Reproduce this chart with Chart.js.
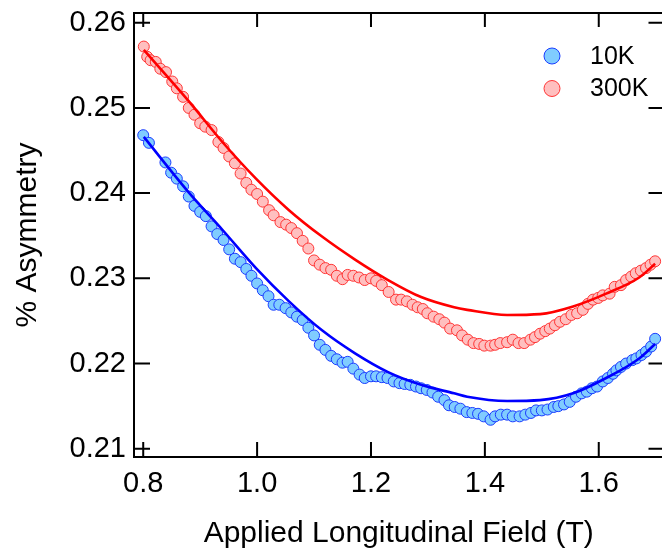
<!DOCTYPE html>
<html>
<head>
<meta charset="utf-8">
<script src="https://cdn.jsdelivr.net/npm/chart.js@4.4.1/dist/chart.umd.min.js"></script>
<style>
html,body{margin:0;padding:0;overflow:hidden;background:#fff;width:662px;height:548px;}
#wrap{width:670px;height:548px;}
</style>
</head>
<body>
<div id="wrap"><canvas id="c" width="670" height="548"></canvas></div>
<script>
// ---- data ----
const fieldBlue = [0.800,0.810,0.839,0.849,0.859,0.870,0.880,0.890,0.900,0.910,0.920,0.930,0.941,0.951,0.961,0.971,0.981,0.990,1.000,1.010,1.020,1.029,1.039,1.050,1.060,1.070,1.080,1.090,1.100,1.110,1.120,1.130,1.140,1.150,1.159,1.169,1.180,1.189,1.200,1.209,1.219,1.229,1.240,1.250,1.259,1.269,1.279,1.288,1.298,1.308,1.318,1.329,1.337,1.347,1.357,1.368,1.378,1.388,1.398,1.410,1.418,1.428,1.439,1.449,1.461,1.471,1.481,1.490,1.500,1.510,1.521,1.529,1.539,1.549,1.560,1.570,1.579,1.588,1.597,1.607,1.616,1.625,1.631,1.639,1.648,1.659,1.666,1.675,1.683,1.692,1.699];
const asymBlue = [0.2468,0.2459,0.2436,0.2424,0.2417,0.2408,0.2396,0.2385,0.2378,0.2373,0.2361,0.2352,0.2345,0.2334,0.2323,0.2319,0.2311,0.2303,0.2294,0.2286,0.2279,0.2269,0.2269,0.2265,0.2260,0.2255,0.2251,0.2242,0.2233,0.2222,0.2216,0.2209,0.2205,0.2201,0.2202,0.2194,0.2187,0.2183,0.2185,0.2185,0.2184,0.2183,0.2179,0.2177,0.2176,0.2175,0.2173,0.2171,0.2169,0.2166,0.2161,0.2157,0.2151,0.2149,0.2147,0.2143,0.2142,0.2141,0.2138,0.2134,0.2138,0.2140,0.2140,0.2138,0.2138,0.2140,0.2142,0.2145,0.2145,0.2146,0.2149,0.2150,0.2152,0.2155,0.2161,0.2165,0.2167,0.2171,0.2173,0.2179,0.2183,0.2188,0.2192,0.2196,0.2200,0.2204,0.2206,0.2210,0.2214,0.2220,0.2229];

const fieldRed = [0.801,0.807,0.813,0.822,0.830,0.840,0.851,0.859,0.870,0.880,0.890,0.900,0.909,0.920,0.932,0.941,0.951,0.961,0.971,0.981,0.990,1.000,1.010,1.021,1.029,1.041,1.051,1.060,1.070,1.080,1.090,1.100,1.110,1.120,1.130,1.140,1.150,1.159,1.169,1.179,1.189,1.200,1.209,1.219,1.231,1.244,1.253,1.263,1.273,1.282,1.291,1.299,1.310,1.320,1.329,1.339,1.351,1.360,1.370,1.380,1.390,1.399,1.410,1.418,1.427,1.439,1.449,1.459,1.469,1.480,1.488,1.497,1.506,1.514,1.523,1.532,1.542,1.552,1.562,1.572,1.581,1.590,1.599,1.607,1.619,1.628,1.639,1.648,1.657,1.665,1.674,1.683,1.691,1.699];
const asymRed = [0.2572,0.2560,0.2556,0.2554,0.2546,0.2542,0.2531,0.2523,0.2513,0.2500,0.2492,0.2482,0.2478,0.2474,0.2460,0.2453,0.2443,0.2435,0.2423,0.2412,0.2404,0.2399,0.2390,0.2380,0.2374,0.2366,0.2363,0.2359,0.2353,0.2344,0.2335,0.2321,0.2316,0.2312,0.2310,0.2303,0.2299,0.2304,0.2303,0.2301,0.2298,0.2300,0.2297,0.2292,0.2284,0.2275,0.2275,0.2273,0.2269,0.2266,0.2264,0.2259,0.2255,0.2252,0.2248,0.2241,0.2239,0.2233,0.2228,0.2224,0.2223,0.2221,0.2221,0.2222,0.2224,0.2225,0.2228,0.2224,0.2224,0.2228,0.2231,0.2235,0.2238,0.2241,0.2245,0.2249,0.2252,0.2257,0.2259,0.2263,0.2270,0.2275,0.2277,0.2280,0.2282,0.2290,0.2292,0.2298,0.2302,0.2306,0.2309,0.2312,0.2316,0.2320];

const fitField = [0.801,0.881,0.939,0.998,1.056,1.114,1.172,1.230,1.288,1.346,1.369,1.439,1.497,1.555,1.613,1.671,1.699];
const fitRed   = [0.2568,0.2507,0.2460,0.2417,0.2380,0.2349,0.2322,0.2298,0.2278,0.2266,0.2263,0.2257,0.2258,0.2267,0.2282,0.2301,0.2317];
const fitBlue  = [0.2466,0.2400,0.2357,0.2312,0.2273,0.2239,0.2212,0.2190,0.2175,0.2165,0.2161,0.2156,0.2157,0.2165,0.2183,0.2206,0.2223];

const seriesLabels = ['10K','300K'];
const xTicks = [0.8,1.0,1.2,1.4,1.6];
const yTicks = [0.21,0.22,0.23,0.24,0.25,0.26];
const xTitle = 'Applied Longitudinal Field (T)';
const yTitle = '% Asymmetry';

// ---- build ----
const pts = (xs, ys) => xs.map((x,i)=>({x:x,y:ys[i]}));
const FONT = 'Liberation Sans, Arial, Helvetica, sans-serif';

const framePlugin = {
  id:'frame',
  afterDraw(chart){
    const {ctx, chartArea:a, scales:{x,y}} = chart;
    ctx.save();
    ctx.strokeStyle='#000';
    ctx.lineWidth=2;
    ctx.beginPath();
    ctx.rect(a.left, a.top, a.right-a.left, a.bottom-a.top);
    ctx.stroke();
    ctx.beginPath();
    xTicks.forEach(v=>{
      const px = x.getPixelForValue(v);
      ctx.moveTo(px, a.bottom); ctx.lineTo(px, a.bottom-15);
      ctx.moveTo(px, a.top); ctx.lineTo(px, a.top+14);
    });
    yTicks.forEach(v=>{
      const py = y.getPixelForValue(v);
      ctx.moveTo(a.left, py); ctx.lineTo(a.left+16, py);
      ctx.moveTo(a.right, py); ctx.lineTo(a.right-15, py);
    });
    ctx.stroke();
    // legend
    const ds = chart.data.datasets.filter(d=>d.type==='scatter');
    ds.forEach((d,i)=>{
      const cy = 56 + i*32.5;
      ctx.beginPath();
      ctx.arc(552, cy, 8, 0, Math.PI*2);
      ctx.fillStyle=d.backgroundColor; ctx.fill();
      ctx.lineWidth=1; ctx.strokeStyle=d.borderColor; ctx.stroke();
      ctx.fillStyle='#000';
      ctx.font='25px '+FONT;
      ctx.textBaseline='middle';
      ctx.textAlign='left';
      ctx.fillText(d.label, 590, cy+1);
    });
    ctx.restore();
  }
};

new Chart(document.getElementById('c'), {
  type:'scatter',
  data:{
    datasets:[
      {type:'line', label:'fit 10K', data:pts(fitField, fitBlue), borderColor:'#0000ff', borderWidth:2.6, pointRadius:0, cubicInterpolationMode:'monotone', fill:false, order:0},
      {type:'line', label:'fit 300K', data:pts(fitField, fitRed), borderColor:'#ff0000', borderWidth:2.6, pointRadius:0, cubicInterpolationMode:'monotone', fill:false, order:0},
      {type:'scatter', label:seriesLabels[0], data:pts(fieldBlue, asymBlue), backgroundColor:'#80ccff', borderColor:'#1a3cff', borderWidth:1, pointRadius:5.5, order:1},
      {type:'scatter', label:seriesLabels[1], data:pts(fieldRed, asymRed), backgroundColor:'#ffbfbf', borderColor:'#ff3535', borderWidth:1, pointRadius:5.5, order:1}
    ]
  },
  options:{
    responsive:false,
    animation:false,
    devicePixelRatio:1,
    layout:{padding:{left:0,right:2,top:13,bottom:0}},
    plugins:{legend:{display:false}, tooltip:{enabled:false}},
    scales:{
      x:{
        type:'linear', min:0.7838, max:1.7137,
        grid:{display:false, drawTicks:false},
        border:{display:false},
        afterBuildTicks:(s)=>{ s.ticks = xTicks.map(v=>({value:v})); },
        afterFit:(s)=>{ s.height = 91; s.paddingLeft=0; s.paddingRight=0; },
        ticks:{padding:10, color:'#000', font:{family:FONT, size:29}, callback:(v)=>Number(v).toFixed(1)},
        title:{display:true, text:xTitle, color:'#000', font:{family:FONT, size:30}, padding:{top:0,bottom:-4}}
      },
      y:{
        type:'linear', min:0.20903, max:0.26114,
        grid:{display:false, drawTicks:false},
        border:{display:false},
        afterBuildTicks:(s)=>{ s.ticks = yTicks.map(v=>({value:v})); },
        afterFit:(s)=>{ s.width = 134; s.paddingTop=0; s.paddingBottom=0; },
        ticks:{padding:8, color:'#000', font:{family:FONT, size:29}, callback:(v)=>Number(v).toFixed(2)},
        title:{display:true, text:yTitle, color:'#000', font:{family:FONT, size:30}, padding:{top:10,bottom:0}}
      }
    }
  },
  plugins:[framePlugin]
});
</script>
</body>
</html>
